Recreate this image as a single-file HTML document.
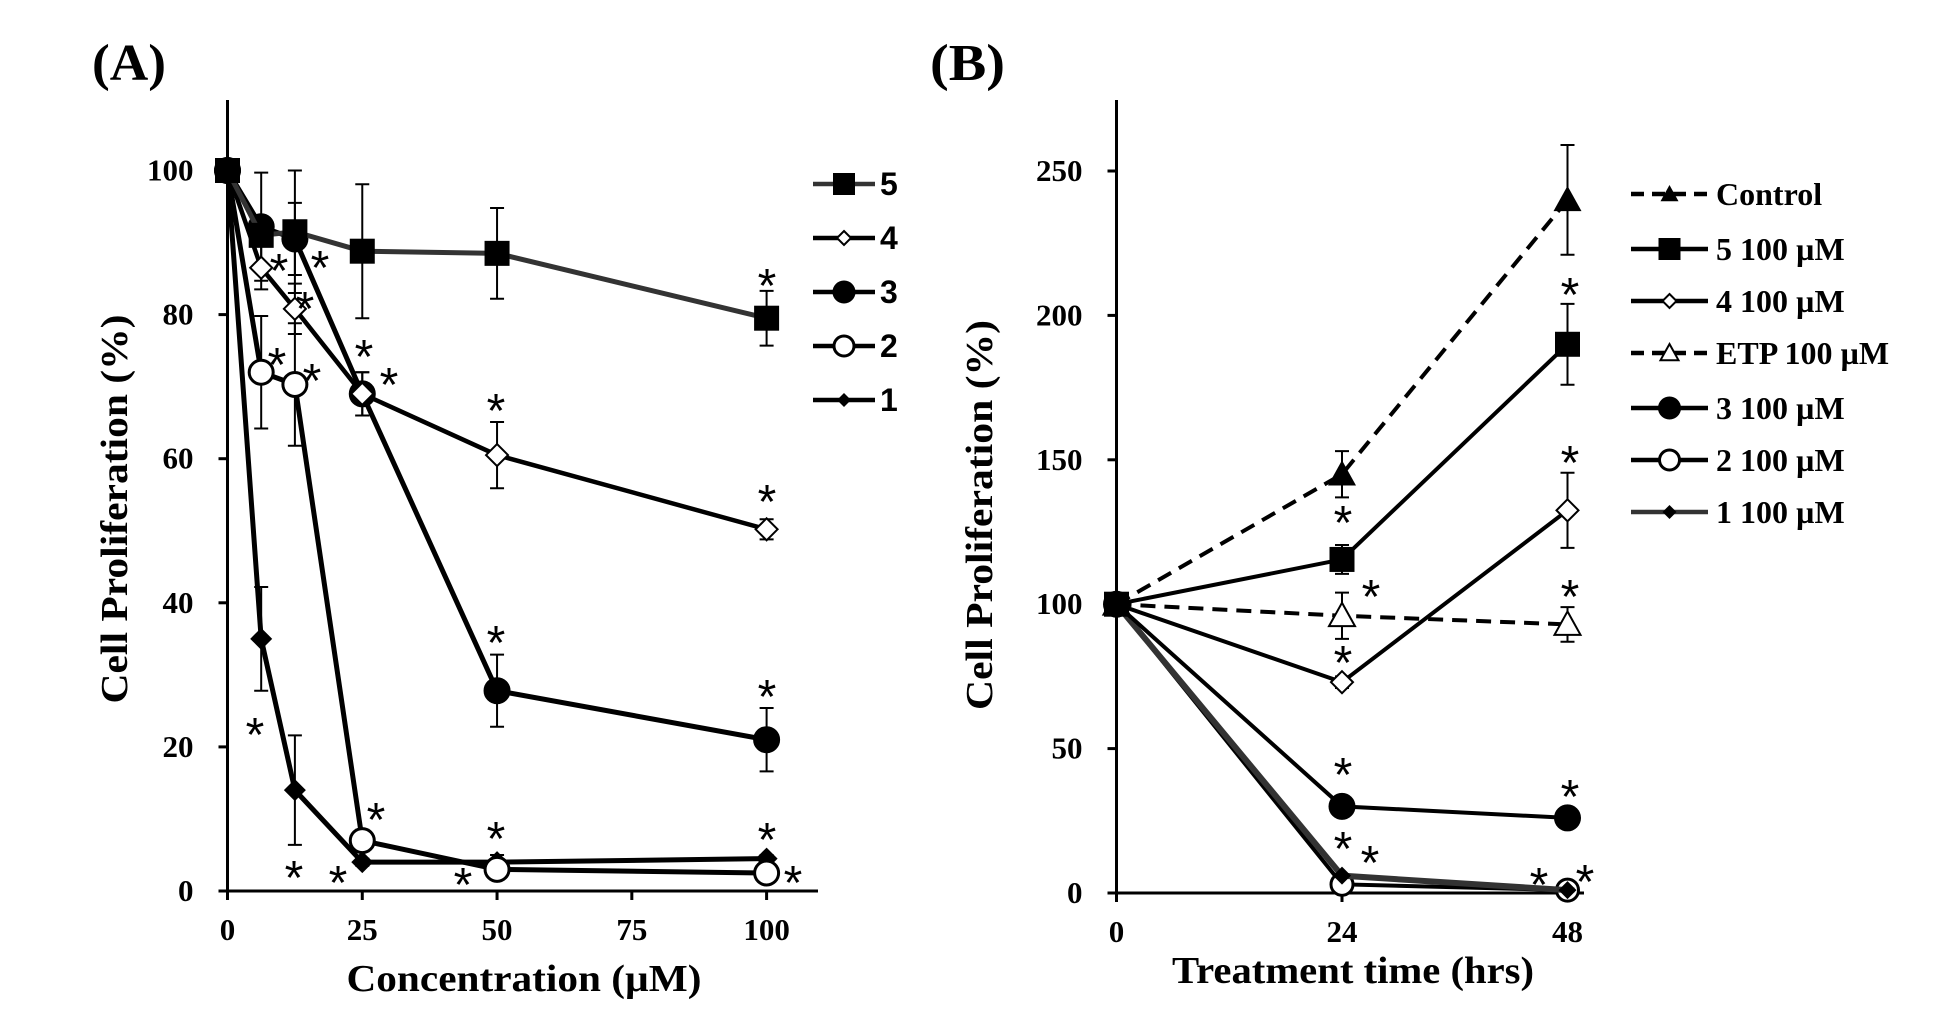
<!DOCTYPE html>
<html><head><meta charset="utf-8">
<style>
html,body{margin:0;padding:0;background:#fff;}
svg{display:block;font-family:"Liberation Serif",serif;}
</style></head>
<body>
<svg id="chart" width="1947" height="1012" viewBox="0 0 1947 1012" xmlns="http://www.w3.org/2000/svg">
<text x="92" y="80" font-size="52" font-weight="bold" textLength="74" lengthAdjust="spacingAndGlyphs">(A)</text>
<text x="930" y="80" font-size="52" font-weight="bold" textLength="75" lengthAdjust="spacingAndGlyphs">(B)</text>
<text transform="translate(127,509) rotate(-90)" text-anchor="middle" font-size="38" font-weight="bold" textLength="389" lengthAdjust="spacingAndGlyphs">Cell Proliferation (%)</text>
<text x="524" y="991" text-anchor="middle" font-size="38" font-weight="bold" textLength="355" lengthAdjust="spacingAndGlyphs">Concentration (µM)</text>
<text transform="translate(992,515) rotate(-90)" text-anchor="middle" font-size="38" font-weight="bold" textLength="390" lengthAdjust="spacingAndGlyphs">Cell Proliferation (%)</text>
<text x="1353" y="983" text-anchor="middle" font-size="38" font-weight="bold" textLength="362" lengthAdjust="spacingAndGlyphs">Treatment time (hrs)</text>
<g id="gA"></g>
<g id="gB"></g>
</svg>
<script>
// ---- Panel A data ----
const aX = [0, 6.25, 12.5, 25, 50, 100];
const aXTicks = [0, 25, 50, 75, 100];
const aYTicks = [0, 20, 40, 60, 80, 100];
const aNames = ["5", "4", "3", "2", "1"];
const a5 = [100, 91, 91.5, 88.8, 88.5, 79.5];
const a5err = [0, 0, 8.5, 9.3, 6.3, 3.8];
const a4 = [100, 86.5, 80.8, 69, 60.5, 50.2];
const a4err = [0, 3, 3.5, 3, 4.6, 1.4];
const a3 = [100, 92.2, 90.5, 69, 27.8, 21];
const a3err = [0, 7.5, 5, 3, 5, 4.4];
const a2 = [100, 72, 70.3, 7, 3, 2.5];
const a2err = [0, 7.8, 8.5, 1.5, 1, 0.5];
const a1 = [100, 35, 14, 4, 4, 4.5];
const a1err = [0, 7.2, 7.6, 0.5, 1, 0.5];
// ---- Panel B data ----
const bX = [0, 24, 48];
const bXTicks = [0, 24, 48];
const bYTicks = [0, 50, 100, 150, 200, 250];
const bNames = ["Control", "5 100 µM", "4 100 µM", "ETP 100 µM", "3 100 µM", "2 100 µM", "1 100 µM"];
const bCtrl = [100, 145, 240];
const bCtrlErr = [0, 8, 19];
const b5 = [100, 115.5, 190];
const b5err = [0, 5, 14];
const b4 = [100, 73, 132.5];
const b4err = [0, 2, 13];
const bETP = [100, 96, 93];
const bETPerr = [0, 8, 6];
const b3 = [100, 30, 26];
const b3err = [0, 2, 2];
const b2 = [100, 3, 1];
const b2err = [0, 0.5, 0.5];
const b1 = [100, 6, 1];
const b1err = [0, 0.5, 0.5];

const NS = "http://www.w3.org/2000/svg";
function mk(parent, tag, attrs) {
  const e = document.createElementNS(NS, tag);
  for (const k in attrs) e.setAttribute(k, attrs[k]);
  parent.appendChild(e);
  return e;
}
function ax(x0, x1, d0, d1) { return v => x0 + (v - d0) / (d1 - d0) * (x1 - x0); }

function marker(g, type, x, y, s) {
  let e;
  if (type === "square") e = mk(g, "rect", {x: x - s, y: y - s, width: 2 * s, height: 2 * s, fill: "#000"});
  else if (type === "circle") e = mk(g, "circle", {cx: x, cy: y, r: s, fill: "#000", stroke: "#000", "stroke-width": 3});
  else if (type === "ocircle") e = mk(g, "circle", {cx: x, cy: y, r: s, fill: "#fff", stroke: "#000", "stroke-width": 3});
  else if (type === "odiamond") e = mk(g, "polygon", {points: `${x},${y - s} ${x + s},${y} ${x},${y + s} ${x - s},${y}`, fill: "#fff", stroke: "#000", "stroke-width": 2});
  else if (type === "diamond") e = mk(g, "polygon", {points: `${x},${y - s} ${x + s},${y} ${x},${y + s} ${x - s},${y}`, fill: "#000"});
  else if (type === "tri") e = mk(g, "polygon", {points: `${x},${y - s} ${x + s},${y + s * 0.8} ${x - s},${y + s * 0.8}`, fill: "#000"});
  else if (type === "otri") e = mk(g, "polygon", {points: `${x},${y - s} ${x + s},${y + s * 0.8} ${x - s},${y + s * 0.8}`, fill: "#fff", stroke: "#000", "stroke-width": 2});
  
  
}

function series(g, name, xs, ys, errs, sx, sy, type, size, color, width, dash) {
  const sg = mk(g, "g", {});
  
  
  for (let i = 0; i < xs.length; i++) {
    if (!errs[i]) continue;
    const x = sx(xs[i]), y1 = sy(ys[i] + errs[i]), y2 = sy(ys[i] - errs[i]);
    const eb = mk(sg, "path", {d: `M${x},${y1}V${y2}M${x - 7},${y1}H${x + 7}M${x - 7},${y2}H${x + 7}`, stroke: "#000", "stroke-width": 2, fill: "none"});
    
    
  }
  const pts = xs.map((v, i) => sx(v) + "," + sy(ys[i])).join(" ");
  const ln = mk(sg, "polyline", {points: pts, fill: "none", stroke: color, "stroke-width": width, "stroke-dasharray": dash || "none"});
  
  
  for (let i = 0; i < xs.length; i++) marker(sg, type, sx(xs[i]), sy(ys[i]), size);
}

function axes(g, ox, oy, xEnd, yTop, xt, yt, sx, sy, pfx) {
  const a = mk(g, "path", {d: `M${ox},${yTop}V${oy}H${xEnd}`, stroke: "#000", "stroke-width": 3, fill: "none"});
  
  
  yt.forEach(v => {
    const y = sy(v);
    mk(g, "line", {x1: ox - 9, x2: ox, y1: y, y2: y, stroke: "#000", "stroke-width": 3});
    const t = mk(g, "text", {x: ox - 34, y: y + 10, "text-anchor": "end", "font-size": 31, "font-weight": "bold"});
    t.textContent = v;
    
    
  });
  xt.forEach(v => {
    const x = sx(v);
    mk(g, "line", {x1: x, x2: x, y1: oy, y2: oy + 9, stroke: "#000", "stroke-width": 3});
    const t = mk(g, "text", {x: x, y: oy + 49, "text-anchor": "middle", "font-size": 31, "font-weight": "bold"});
    t.textContent = v;
    
    
  });
}

function stars(g, list) {
  list.forEach(p => {
    const t = mk(g, "text", {x: p[0], y: p[1] + 27, "text-anchor": "middle", "font-size": 48, "font-family": "Liberation Sans, sans-serif"});
    t.textContent = "*";
    
    
  });
}

function legend(g, x0, x1, tx, rows, names, types, dashes, colors, pfx, font, fsize) {
  names.forEach((n, i) => {
    const y = rows[i];
    const lg = mk(g, "g", {});
    
    
    mk(lg, "line", {x1: x0, x2: x1, y1: y, y2: y, stroke: colors[i], "stroke-width": 4.5, "stroke-dasharray": dashes[i] || "none"});
    marker(lg, types[i].t, (x0 + x1) / 2, y, types[i].s);
    const t = mk(lg, "text", {x: tx, y: y + 11, "font-size": fsize, "font-weight": "bold", "font-family": font});
    t.textContent = n;
  });
}

// Panel A
const gA = document.getElementById("gA");
const sxA = ax(227.5, 766.6, 0, 100), syA = ax(891, 170.5, 0, 100);
axes(gA, 227.5, 891, 818, 100, aXTicks, aYTicks, sxA, syA, "panel-a");
series(gA, "a1", aX, a1, a1err, sxA, syA, "diamond", 11, "#000", 5);
series(gA, "a2", aX, a2, a2err, sxA, syA, "ocircle", 12, "#000", 5);
series(gA, "a3", aX, a3, a3err, sxA, syA, "circle", 12, "#000", 5);
series(gA, "a4", aX, a4, a4err, sxA, syA, "odiamond", 11, "#000", 4.5);
series(gA, "a5", aX, a5, a5err, sxA, syA, "square", 12.5, "#333", 5);
stars(gA, [[279,260],[320,257],[305,298],[277,354],[312,370],[364,346],[389,374],[496,400],[767,275],[767,491],[496,632],[767,686],[255,724],[294,867],[338,872],[376,809],[496,828],[463,874],[767,829],[793,872]]);
legend(gA, 813, 875, 880, [184, 238, 292, 346, 400], aNames,
  [{t:"square",s:11},{t:"odiamond",s:7},{t:"circle",s:10},{t:"ocircle",s:10},{t:"diamond",s:7}],
  [null,null,null,null,null], ["#333","#000","#000","#000","#000"], "panel-a", "Liberation Sans, sans-serif", 32);

// Panel B
const gB = document.getElementById("gB");
const sxB = ax(1116.5, 1567.5, 0, 48), syB = ax(893, 171, 0, 250);
axes(gB, 1116.5, 893, 1584, 100, bXTicks, bYTicks, sxB, syB, "panel-b");
series(gB, "b2", bX, b2, b2err, sxB, syB, "ocircle", 11, "#000", 4);
series(gB, "b1", bX, b1, b1err, sxB, syB, "diamond", 9, "#333", 6);
series(gB, "b3", bX, b3, b3err, sxB, syB, "circle", 12, "#000", 4);
series(gB, "betp", bX, bETP, bETPerr, sxB, syB, "otri", 13, "#000", 4, "15,9");
series(gB, "b4", bX, b4, b4err, sxB, syB, "odiamond", 11, "#000", 4);
series(gB, "b5", bX, b5, b5err, sxB, syB, "square", 12.5, "#000", 4);
series(gB, "control", bX, bCtrl, bCtrlErr, sxB, syB, "tri", 14, "#000", 4, "15,9");
stars(gB, [[1570,284],[1570,452],[1570,586],[1343,512],[1371,586],[1343,652],[1343,764],[1570,786],[1343,838],[1370,852],[1539,874],[1585,871]]);
legend(gB, 1631, 1708, 1716, [194, 249, 301, 353, 408, 460, 512], bNames,
  [{t:"tri",s:9},{t:"square",s:11},{t:"odiamond",s:7},{t:"otri",s:9},{t:"circle",s:10},{t:"ocircle",s:10},{t:"diamond",s:7}],
  ["13,8",null,null,"13,8",null,null,null], ["#000","#000","#000","#000","#000","#000","#333"], "panel-b", "Liberation Serif, serif", 32);
</script>
</body></html>
